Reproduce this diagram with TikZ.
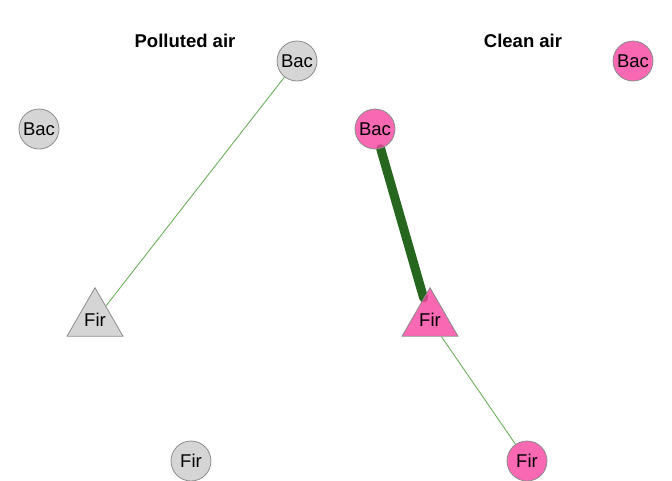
\documentclass[tikz,border=0pt]{standalone}
\usepackage{fontspec}
\setmainfont{Liberation Sans}
\usetikzlibrary{shapes.geometric,backgrounds}
\definecolor{greyfill}{RGB}{203,203,203}
\definecolor{pinkfill}{RGB}{246,66,160}
\definecolor{nodeborder}{RGB}{140,140,140}
\definecolor{thinedge}{RGB}{110,175,95}
\definecolor{thickedge}{RGB}{38,102,30}
\tikzset{
  vbase/.style={draw=nodeborder, line width=0.8pt, fill opacity=0.8, text opacity=1, inner sep=0pt, font=\fontsize{18.5}{18.5}\selectfont},
  circv/.style={vbase, circle, minimum size=40pt},
  triv/.style={vbase, regular polygon, regular polygon sides=3, minimum size=64.6pt},
  greyv/.style={fill=greyfill},
  pinkv/.style={fill=pinkfill},
  thinlink/.style={draw=thinedge, line width=0.9pt},
  thicklink/.style={draw=thickedge, line width=9pt, line cap=round},
  paneltitle/.style={font=\bfseries\fontsize{18.5}{18.5}\selectfont}
}
\begin{document}
\begin{tikzpicture}[x=1pt,y=-1pt]
\useasboundingbox (0,0) rectangle (672,480);
% titles
\node[paneltitle] (t1) at (185,41) {Polluted air};
\node[paneltitle] (t2) at (523,41) {Clean air};
% polluted panel
\node[circv,greyv] (pb1) at (297,61) {Bac};
\node[circv,greyv] (pb2) at (39,129) {Bac};
\node[triv,greyv] (pf1) at (95,320) {Fir};
\node[circv,greyv] (pf2) at (191,461) {Fir};
% clean panel
\node[circv,pinkv] (cb1) at (375,129) {Bac};
\node[circv,pinkv] (cb2) at (633,61) {Bac};
\node[triv,pinkv] (cf1) at (430,320) {Fir};
\node[circv,pinkv] (cf2) at (527,461) {Fir};
\begin{scope}[on background layer]
\draw[thinlink] (pb1) -- (pf1);
\draw[thicklink] (cb1) -- (cf1);
\draw[thinlink] (cf1) -- (cf2);
\end{scope}
\end{tikzpicture}
\end{document}
